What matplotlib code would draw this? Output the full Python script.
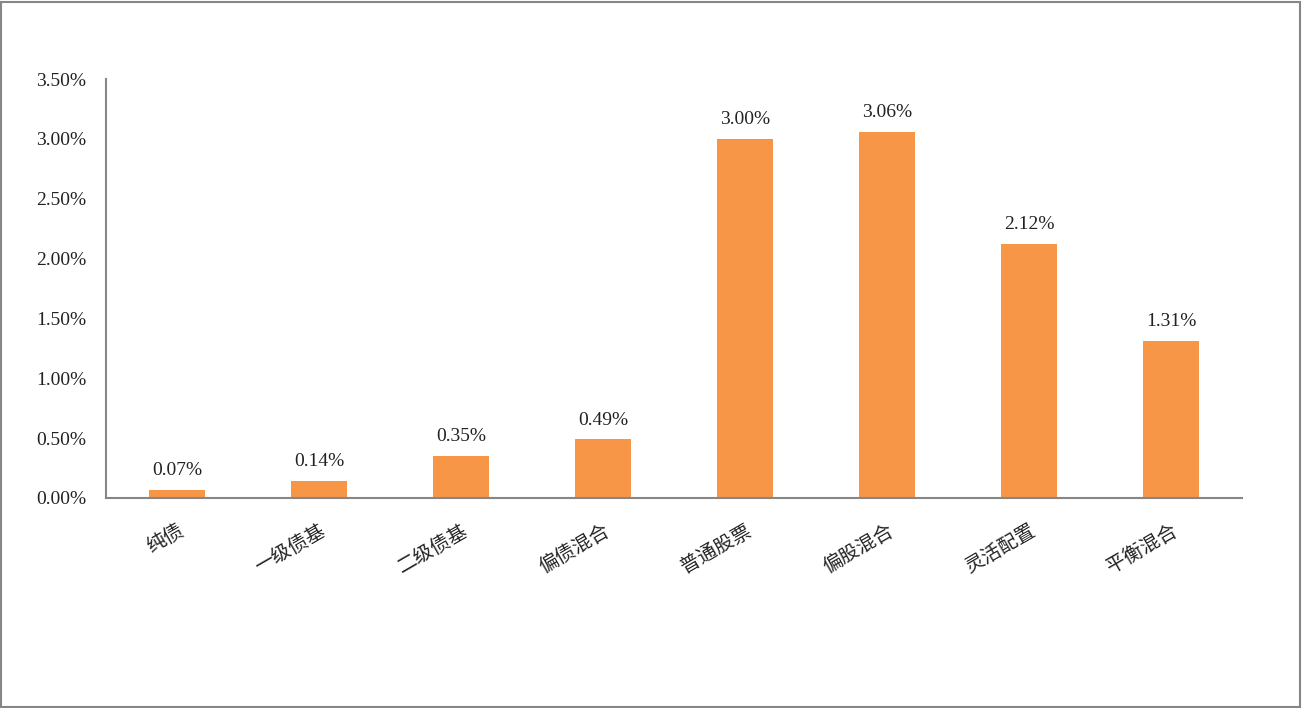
import matplotlib
matplotlib.use('Agg')
import matplotlib.pyplot as plt
from matplotlib.ticker import FuncFormatter

categories = ['纯债', '一级债基', '二级债基', '偏债混合', '普通股票', '偏股混合', '灵活配置', '平衡混合']
values = [0.07, 0.14, 0.35, 0.49, 3.00, 3.06, 2.12, 1.31]
yticks = [0, 0.5, 1.0, 1.5, 2.0, 2.5, 3.0, 3.5]

plt.rcParams['font.family'] = ['Liberation Serif', 'Noto Sans CJK SC']

fig = plt.figure(figsize=(13.03, 7.08), dpi=100)
ax = fig.add_axes([106/1303, 1-498/708, (1242-106)/1303, (498-79)/708])

x = list(range(len(categories)))
bars = ax.bar(x, values, width=0.4, color='#F79646')

for xi, v in zip(x, values):
    ax.text(xi, v + 0.09, f'{v:.2f}%', ha='center', va='bottom', fontsize=14, color='#222222')

ax.set_xlim(-0.5, len(categories) - 0.5)
ax.set_ylim(0, 3.5)
ax.set_yticks(yticks)
ax.yaxis.set_major_formatter(FuncFormatter(lambda v, p: f'{v:.2f}%'))
ax.set_xticks(x)
ax.set_xticklabels(categories, rotation=30, ha='right', va='top', rotation_mode='anchor',
                   fontsize=15.5, family=['Noto Sans CJK SC'])
ax.tick_params(axis='both', length=0, labelsize=14, colors='#222222')
ax.tick_params(axis='y', pad=14)
ax.tick_params(axis='x', pad=16)

for s in ['top', 'right']:
    ax.spines[s].set_visible(False)
for s in ['left', 'bottom']:
    ax.spines[s].set_color('#868686')
    ax.spines[s].set_linewidth(1.5)

fig.patches.append(plt.Rectangle((0.001, 0.002), 0.997, 0.995, transform=fig.transFigure,
                                 fill=False, edgecolor='#868686', linewidth=1.5))

fig.savefig('out.png', dpi=100)
